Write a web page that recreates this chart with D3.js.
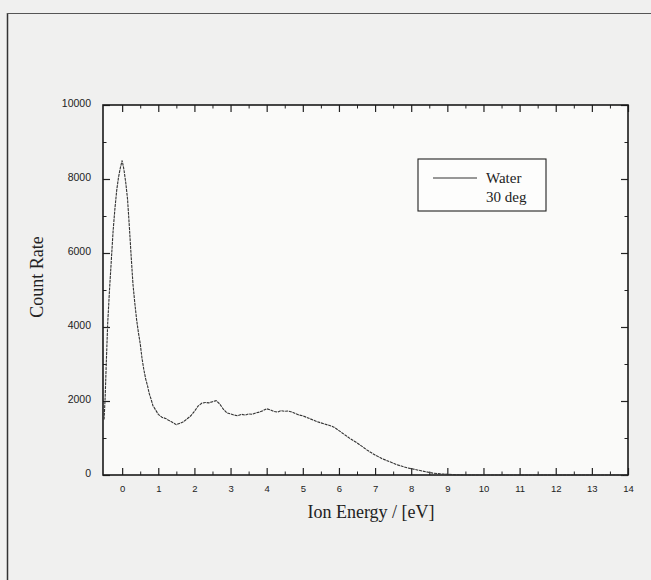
<!DOCTYPE html>
<html>
<head>
<meta charset="utf-8">
<script src="https://cdn.jsdelivr.net/npm/d3@7"></script>
<style>
  html, body { margin: 0; padding: 0; background: #f0f0ef; }
  svg { display: block; }
</style>
</head>
<body>
<svg id="chart" width="651" height="580"></svg>
<script>
// ---- data ----
const energy = [-0.5,-0.47,-0.44,-0.4,-0.35,-0.3,-0.25,-0.2,-0.15,-0.1,-0.05,0,0.05,0.1,0.15,0.2,0.25,0.3,0.35,0.4,0.45,0.5,0.55,0.6,0.65,0.7,0.75,0.8,0.85,0.9,0.95,1.0,1.05,1.1,1.2,1.3,1.4,1.5,1.6,1.7,1.8,1.9,2.0,2.1,2.2,2.3,2.4,2.5,2.6,2.7,2.8,2.9,3.0,3.1,3.2,3.3,3.4,3.5,3.6,3.7,3.8,3.9,4.0,4.1,4.2,4.3,4.4,4.5,4.6,4.7,4.8,4.9,5.0,5.1,5.2,5.3,5.4,5.5,5.6,5.7,5.8,5.9,6.0,6.1,6.2,6.3,6.4,6.5,6.6,6.7,6.8,6.9,7.0,7.1,7.2,7.3,7.4,7.5,7.6,7.7,7.8,7.9,8.0,8.2,8.4,8.6,8.8,9.0,9.2,9.5,10,11,12,13,14];
const countRate = [1500,2100,3000,4100,5000,5800,6600,7200,7700,8050,8300,8500,8250,7900,7450,6700,5900,5150,4650,4200,3850,3550,3150,2850,2600,2420,2200,2050,1880,1800,1720,1640,1600,1560,1530,1470,1420,1360,1400,1440,1520,1600,1720,1860,1940,1960,1950,1980,2010,1920,1780,1680,1650,1620,1600,1640,1620,1650,1640,1680,1700,1740,1790,1760,1720,1700,1740,1720,1730,1700,1660,1620,1600,1560,1520,1480,1440,1410,1380,1350,1320,1270,1200,1130,1060,990,930,870,800,730,660,600,540,490,440,400,360,320,280,250,220,190,170,130,90,50,30,20,10,0,0,0,0,0,0];
const xTicks = [0,1,2,3,4,5,6,7,8,9,10,11,12,13,14];
const yTicks = [0,2000,4000,6000,8000,10000];
const legendLabels = ["Water", "30 deg"];
const xTitle = "Ion Energy / [eV]";
const yTitle = "Count Rate";

// ---- layout ----
const svg = d3.select("#chart");
const L = 103, R = 628, T = 105, B = 475;
const x = d3.scaleLinear().domain([-0.53, 14]).range([L, R]);
const y = d3.scaleLinear().domain([0, 10000]).range([B, T]);

// scanned page border
svg.append("line").attr("x1", 7.5).attr("x2", 7.5).attr("y1", 13).attr("y2", 580)
  .attr("stroke", "#333").attr("stroke-width", 1.5);
svg.append("line").attr("x1", 7).attr("x2", 651).attr("y1", 13.5).attr("y2", 13.5)
  .attr("stroke", "#555").attr("stroke-width", 1.2);

// plot area background
svg.append("rect").attr("x", L).attr("y", T).attr("width", R - L).attr("height", B - T)
  .attr("fill", "#fafaf9");

const xMinor = d3.range(0, 14.01, 0.5).filter(v => !xTicks.includes(v));
const yMinor = d3.range(1000, 10000, 2000);

const tickFont = "'Liberation Sans', Arial, sans-serif";

// bottom axis (ticks inward)
const gx = svg.append("g").attr("transform", `translate(0,${B})`)
  .call(d3.axisBottom(x).tickValues(xTicks).tickSize(-7).tickPadding(10).tickFormat(d3.format("d")));
gx.select(".domain").remove();
gx.selectAll("text").attr("font-family", tickFont).attr("font-size", 9.5).attr("fill", "#222");
gx.selectAll("line").attr("stroke", "#222").attr("stroke-width", 1.2);
const gxm = svg.append("g").attr("transform", `translate(0,${B})`)
  .call(d3.axisBottom(x).tickValues(xMinor).tickSize(-3.5).tickFormat(""));
gxm.select(".domain").remove();
gxm.selectAll("line").attr("stroke", "#222");

// top axis
const gt = svg.append("g").attr("transform", `translate(0,${T})`)
  .call(d3.axisTop(x).tickValues(xTicks).tickSize(-7).tickFormat(""));
gt.select(".domain").remove();
gt.selectAll("line").attr("stroke", "#222").attr("stroke-width", 1.2);
const gtm = svg.append("g").attr("transform", `translate(0,${T})`)
  .call(d3.axisTop(x).tickValues(xMinor).tickSize(-3.5).tickFormat(""));
gtm.select(".domain").remove();
gtm.selectAll("line").attr("stroke", "#222");

// left axis
const gy = svg.append("g").attr("transform", `translate(${L},0)`)
  .call(d3.axisLeft(y).tickValues(yTicks).tickSize(-7).tickPadding(12).tickFormat(d3.format("d")));
gy.select(".domain").remove();
gy.selectAll("text").attr("font-family", tickFont).attr("font-size", 10.5).attr("fill", "#222").attr("dy", "0.1em");
gy.selectAll("line").attr("stroke", "#222").attr("stroke-width", 1.2);
const gym = svg.append("g").attr("transform", `translate(${L},0)`)
  .call(d3.axisLeft(y).tickValues(yMinor).tickSize(-3.5).tickFormat(""));
gym.select(".domain").remove();
gym.selectAll("line").attr("stroke", "#222");

// right axis
const gr = svg.append("g").attr("transform", `translate(${R},0)`)
  .call(d3.axisRight(y).tickValues(yTicks).tickSize(-7).tickFormat(""));
gr.select(".domain").remove();
gr.selectAll("line").attr("stroke", "#222").attr("stroke-width", 1.2);
const grm = svg.append("g").attr("transform", `translate(${R},0)`)
  .call(d3.axisRight(y).tickValues(yMinor).tickSize(-3.5).tickFormat(""));
grm.select(".domain").remove();
grm.selectAll("line").attr("stroke", "#222");

// frame
svg.append("rect").attr("x", L).attr("y", T).attr("width", R - L).attr("height", B - T)
  .attr("fill", "none").attr("stroke", "#1a1a1a").attr("stroke-width", 1.6);

// data line
const pts = energy.map((e, i) => [e, countRate[i]]);
svg.append("path").datum(pts)
  .attr("fill", "none").attr("stroke", "#333").attr("stroke-width", 1.1)
  .attr("stroke-dasharray", "3,0.8")
  .attr("d", d3.line().x(d => x(d[0])).y(d => y(d[1])));

// axis titles
const serif = "'Liberation Serif', 'Times New Roman', serif";
svg.append("text").attr("x", 371).attr("y", 518).attr("text-anchor", "middle")
  .attr("font-family", serif).attr("font-size", 18).attr("fill", "#222").text(xTitle);
svg.append("text").attr("transform", "translate(43,277) rotate(-90)").attr("text-anchor", "middle")
  .attr("font-family", serif).attr("font-size", 18).attr("fill", "#222").text(yTitle);

// legend
const lg = svg.append("g");
lg.append("rect").attr("x", 418).attr("y", 159).attr("width", 128).attr("height", 52)
  .attr("fill", "#fdfdfc").attr("stroke", "#222").attr("stroke-width", 1.1);
lg.append("line").attr("x1", 433).attr("x2", 477).attr("y1", 178).attr("y2", 178)
  .attr("stroke", "#333").attr("stroke-width", 1);
lg.selectAll("text.leg").data(legendLabels).join("text").attr("class", "leg")
  .attr("x", 486).attr("y", (d, i) => 183 + i * 19)
  .attr("font-family", serif).attr("font-size", 15).attr("fill", "#222").text(d => d);
</script>
</body>
</html>
